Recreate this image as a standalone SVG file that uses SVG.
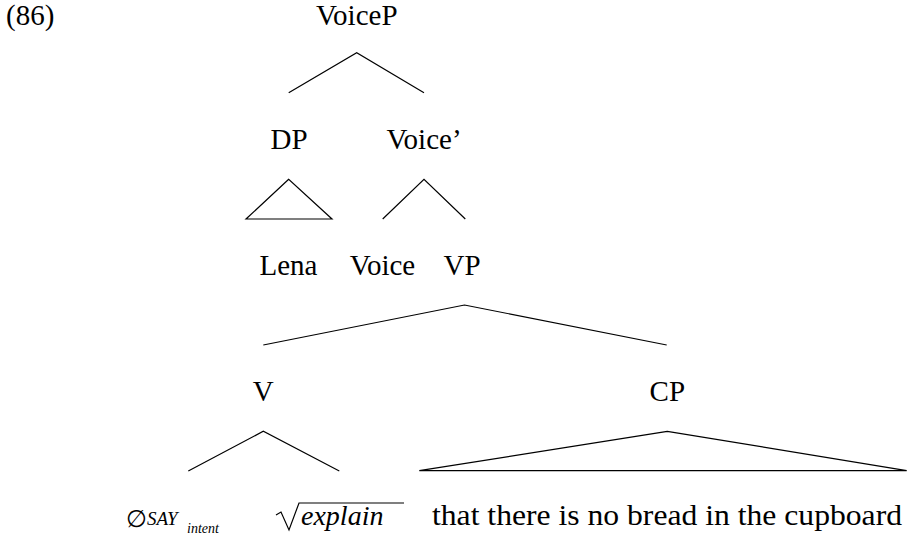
<svg xmlns="http://www.w3.org/2000/svg" width="909" height="541" viewBox="0 0 909 541">
<rect width="909" height="541" fill="#fff"/>
<text x="6" y="25" font-size="29" font-family="Liberation Serif, Times New Roman, serif">(86)</text>
<g id="voicep"><text x="356.7" y="25" text-anchor="middle" font-size="29" font-family="Liberation Serif, Times New Roman, serif">VoiceP</text></g>
<g id="dp"><text x="289" y="149" text-anchor="middle" font-size="29" font-family="Liberation Serif, Times New Roman, serif">DP</text></g>
<g id="voicebar"><text x="424" y="149" text-anchor="middle" font-size="29" font-family="Liberation Serif, Times New Roman, serif">Voice’</text></g>
<g id="lena"><text x="288.5" y="275" text-anchor="middle" font-size="29" font-family="Liberation Serif, Times New Roman, serif">Lena</text></g>
<g id="voice"><text x="382.5" y="275" text-anchor="middle" font-size="29" font-family="Liberation Serif, Times New Roman, serif">Voice</text></g>
<g id="vp"><text x="462" y="275" text-anchor="middle" font-size="29" font-family="Liberation Serif, Times New Roman, serif">VP</text></g>
<g id="v"><text x="263.3" y="401" text-anchor="middle" font-size="29" font-family="Liberation Serif, Times New Roman, serif">V</text></g>
<g id="cp"><text x="667.3" y="401" text-anchor="middle" font-size="29" font-family="Liberation Serif, Times New Roman, serif">CP</text></g>
<g id="null"><text x="126" y="527" font-size="24" font-family="DejaVu Serif, serif">∅</text><text x="147" y="525" font-size="19" font-style="italic" font-family="Liberation Serif, Times New Roman, serif">SAY</text><text x="187" y="533" font-size="14" font-style="italic" font-family="Liberation Serif, Times New Roman, serif">intent</text></g>
<g id="explain"><path d="M276 515 L281 512 L289 530 L299 503 L404 503" stroke="#000" stroke-width="1.2" fill="none"/><text x="301" y="525" font-size="28" font-style="italic" font-family="Liberation Serif, Times New Roman, serif">explain</text></g>
<g id="clause"><text x="432" y="525" font-size="29" font-family="Liberation Serif, Times New Roman, serif" textLength="470" lengthAdjust="spacingAndGlyphs">that there is no bread in the cupboard</text></g>
<g id="connectors" stroke="#000" stroke-width="1.2" fill="none">
<polyline points="288.7,92.7 356.7,52.7 424,92.7"/>
<polygon points="288.7,179.3 246,219 332,219"/>
<polyline points="382.7,219 424,179.3 465.3,219"/>
<polyline points="263.3,345 464.5,305 666.7,345"/>
<polyline points="188.3,471 263.3,431.3 339.3,471"/>
<polygon points="667.3,431.3 419.3,470.7 906.7,470.7"/>
</g>
</svg>
